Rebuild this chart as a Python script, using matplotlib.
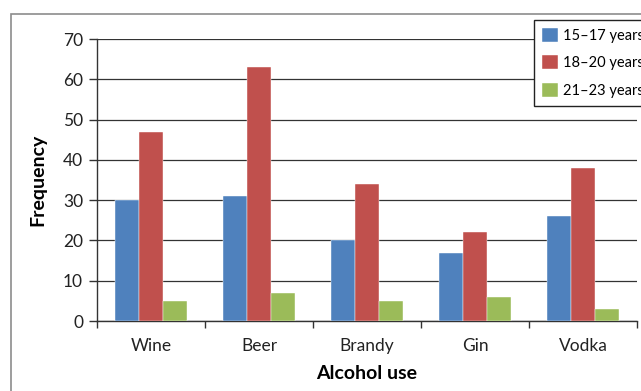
import matplotlib
matplotlib.use("Agg")
import matplotlib.pyplot as plt
from matplotlib.patches import Rectangle
import numpy as np

categories = ["Wine", "Beer", "Brandy", "Gin", "Vodka"]
series_names = ["15–17 years", "18–20 years", "21–23 years"]
v_15_17 = [30, 31, 20, 17, 26]
v_18_20 = [47, 63, 34, 22, 38]
v_21_23 = [5, 7, 5, 6, 3]
colors = ["#4F81BD", "#C0504D", "#9BBB59"]

plt.rcParams['font.family'] = ['Lato', 'DejaVu Sans']

fig = plt.figure(figsize=(6.41, 3.91), dpi=100)
W, H = 641, 391
ax = fig.add_axes([97 / W, 1 - 321 / H, 540 / W, (321 - 39) / H])

# outer chart border
fig.patches.append(Rectangle((11 / W, -0.1), 1.2, 1 - 14 / H + 0.1,
                             transform=fig.transFigure, fill=False,
                             edgecolor="#8c8c8c", linewidth=1.2, zorder=0))

x = np.arange(len(categories))
bw = 24 / 108
for i, (vals, name) in enumerate(zip([v_15_17, v_18_20, v_21_23], series_names)):
    ax.bar(x + (i - 1) * bw, vals, width=bw, color=colors[i], label=name,
           zorder=3, edgecolor="white", linewidth=0.3)

ax.set_xlim(-0.5, len(categories) - 0.5)
ax.set_ylim(0, 70)
ax.set_yticks(range(0, 71, 10))
ax.set_xticks(x)
ax.set_xticklabels(categories, fontsize=12.5)
ax.set_xticks(np.arange(-0.5, len(categories), 1), minor=True)
ax.tick_params(axis='x', which='major', length=0, pad=12, labelcolor="#222222")
ax.tick_params(axis='x', which='minor', length=5, width=1, color="#333333", direction='out')
ax.tick_params(axis='y', length=6, width=1, color="#333333", labelsize=12.5, pad=4, labelcolor="#222222")

ax.yaxis.grid(True, color="#333333", linewidth=0.9, zorder=0)
ax.set_axisbelow(True)
for s in ["top", "right"]:
    ax.spines[s].set_visible(False)
for s in ["left", "bottom"]:
    ax.spines[s].set_color("#333333")
    ax.spines[s].set_linewidth(1)

ax.set_xlabel("Alcohol use", fontsize=14, fontweight="bold", labelpad=8)
ax.set_ylabel("Frequency", fontsize=14, fontweight="bold", labelpad=12)

leg = fig.legend(loc="upper left", bbox_to_anchor=(534 / W, 1 - 20 / H),
                 frameon=True, fancybox=False, fontsize=10.5,
                 handlelength=1.1, handleheight=1.1, handletextpad=0.35,
                 labelspacing=0.85, borderpad=0.55, borderaxespad=0)
leg.get_frame().set_edgecolor("#222222")
leg.get_frame().set_linewidth(1)
leg.get_frame().set_facecolor("white")
leg.get_frame().set_alpha(1)

fig.savefig("out.png", dpi=100)
